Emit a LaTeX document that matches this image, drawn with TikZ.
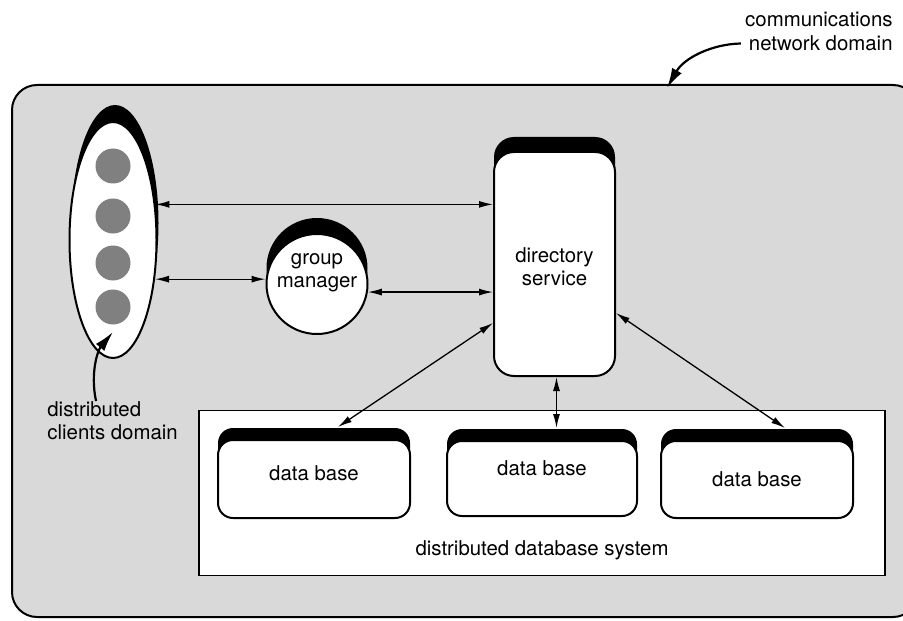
\documentclass[tikz,border=0pt]{standalone}
\usepackage{fontspec}
\setmainfont{TeX Gyre Heros}
\usetikzlibrary{arrows.meta,shapes.geometric,shadows,calc}
\definecolor{bggray}{RGB}{217,217,217}
\definecolor{dotgray}{RGB}{128,128,128}
\begin{document}
\begin{tikzpicture}[x=0.5pt,y=-0.5pt,
  font=\fontsize{10.2}{11.6}\selectfont,
  arr/.style={{Latex[length=7pt,width=3.5pt]}-{Latex[length=7pt,width=3.5pt]}, line width=0.65pt},
  callout/.style={-{Latex[length=10pt,width=5.5pt]}, line width=1.1pt},
  whitebox/.style={draw, line width=1pt, fill=white, rounded corners=7.5pt, inner sep=0pt},
  dbbox/.style={whitebox, minimum width=96pt, general shadow={fill=black, shadow yshift=6pt}},
  dot/.style={circle, fill=dotgray, minimum size=17.5pt, inner sep=0pt},
  plain/.style={inner sep=0pt, align=left}]
\useasboundingbox (0,0) rectangle (903,620);
% communications network domain
\draw[fill=bggray, line width=1pt, rounded corners=12.5pt] (12,85) rectangle (918,617);
% distributed database system
\node[draw, fill=white, line width=0.6pt, minimum width=343pt, minimum height=82.5pt, inner sep=0pt] (ddbs) at (542,493) {};
\node[inner sep=0pt] (ddbslbl) at (542,550) {distributed database system};
% clients
\node[ellipse, draw, line width=1pt, fill=white, minimum width=43.5pt, minimum height=118pt, inner sep=0pt,
  general shadow={fill=black, shadow yshift=8.5pt, shadow xshift=1pt}] (clients) at (113,240) {};
\node[dot] (c1) at (113,166) {};
\node[dot] (c2) at (113,216) {};
\node[dot] (c3) at (113,263) {};
\node[dot] (c4) at (113,307) {};
% group manager
\node[ellipse, draw, line width=1pt, fill=white, minimum width=50.5pt, minimum height=50pt, inner sep=0pt,
  general shadow={fill=black, shadow yshift=8pt}] (gm) at (317,284) {};
\node[inner sep=0pt, align=center] (gmlbl) at (317,273) {group\\manager};
% directory service
\node[whitebox, rounded corners=10pt, minimum width=60.5pt, minimum height=112pt,
  general shadow={fill=black, shadow yshift=7.5pt}] (dir) at (554.5,264) {};
\node[inner sep=0pt, align=center] (dirlbl) at (554.5,267) {directory\\service};
% data bases
\node[dbbox, minimum height=39pt, text height=5pt, text depth=4pt] (db1) at (314,479) {data base};
\node[dbbox, minimum width=95pt, minimum height=37.5pt, text height=4pt, text depth=7pt] (db2) at (542,478.5) {data base};
\node[dbbox, minimum height=38.5pt] (db3) at (757,479.5) {data base};
\coordinate (db1top) at ($(db1.north)+(24,-12)$);
\coordinate (db2top) at ($(db2.north)+(0,-12)$);
\coordinate (db3top) at ($(db3.north)+(28,-12)$);
% connectors
\draw[arr] (clients.40) -- (clients.40 -| dir.west);
\draw[arr] (clients.-43) -- (clients.-43 -| gm.west);
\draw[arr] (gm.-9) -- (gm.-9 -| dir.west);
\draw[arr] ($(dir.west)+(0,59)$) -- (db1top);
\draw[arr] ($(dir.east)+(0,49)$) -- (db3top);
\draw[arr] ([xshift=1pt]dir.south) -- ([xshift=1pt]dir.south |- db2top);
% labels with callouts
\node[plain, anchor=north west] (cdlbl) at (47,401) {distributed\\clients domain};
\coordinate (cdtip) at (113,332);
\draw[callout] (cdlbl.north -| 96,0) .. controls (90,372) and (98,350) .. (cdtip);
\node[plain, align=right, anchor=east] (cnlbl) at (893,31.5) {communications\\network domain};
\coordinate (cntip) at (667,88);
\draw[callout] ($(cnlbl.west)+(-4,12)$) .. controls (712,44) and (684,58) .. (cntip);
\end{tikzpicture}
\end{document}
